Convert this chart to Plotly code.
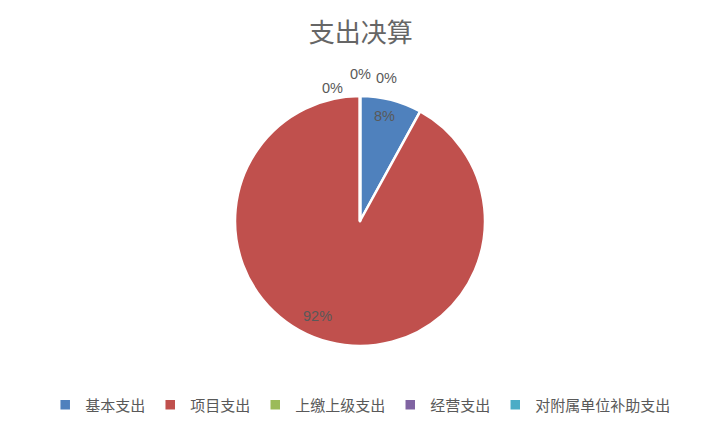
import plotly.graph_objects as go

categories = ["基本支出", "项目支出", "上缴上级支出", "经营支出", "对附属单位补助支出"]
values = [8, 92, 0, 0, 0]
colors = ["#4F81BD", "#C0504D", "#9BBB59", "#8064A2", "#4BACC6"]

# data label spots, copied from the Excel layout (paper coords)
label_pos = [(0.528, 0.7465), (0.4328, 0.277), (0.4538, 0.8122), (0.4930, 0.8451), (0.5308, 0.8357)]

W, H = 714, 426  # page body has an 8px margin

fig = go.Figure()
fig.add_trace(go.Pie(
    labels=categories,
    values=values,
    sort=False,
    direction="clockwise",
    rotation=0,
    marker=dict(colors=colors, line=dict(color="white", width=2.5)),
    textinfo="none",
    domain=dict(x=[0.3179, 0.6681], y=[0.2066, 0.7934]),
    hoverinfo="label+percent",
))

total = sum(values)
for (px, py), v in zip(label_pos, values):
    fig.add_annotation(
        x=px, y=py, xref="paper", yref="paper",
        xanchor="center", yanchor="middle",
        text=f"{100 * v / total:.0f}%", showarrow=False,
        font=dict(family="Liberation Sans", size=14.5, color="#595959"),
    )

fig.update_layout(
    width=W,
    height=H,
    margin=dict(l=0, r=0, t=0, b=0),
    paper_bgcolor="white",
    plot_bgcolor="white",
    title=dict(
        text="支出决算",
        x=0.494, xanchor="center",
        y=0.941, yanchor="middle",
        font=dict(family="Noto Sans CJK SC", size=26, color="#666666"),
    ),
    legend=dict(
        orientation="h",
        x=0.494, xanchor="center",
        y=0.068, yanchor="middle",
        font=dict(family="Noto Sans CJK SC", size=15, color="#595959"),
    ),
    showlegend=True,
)

fig.write_html("out.html")
